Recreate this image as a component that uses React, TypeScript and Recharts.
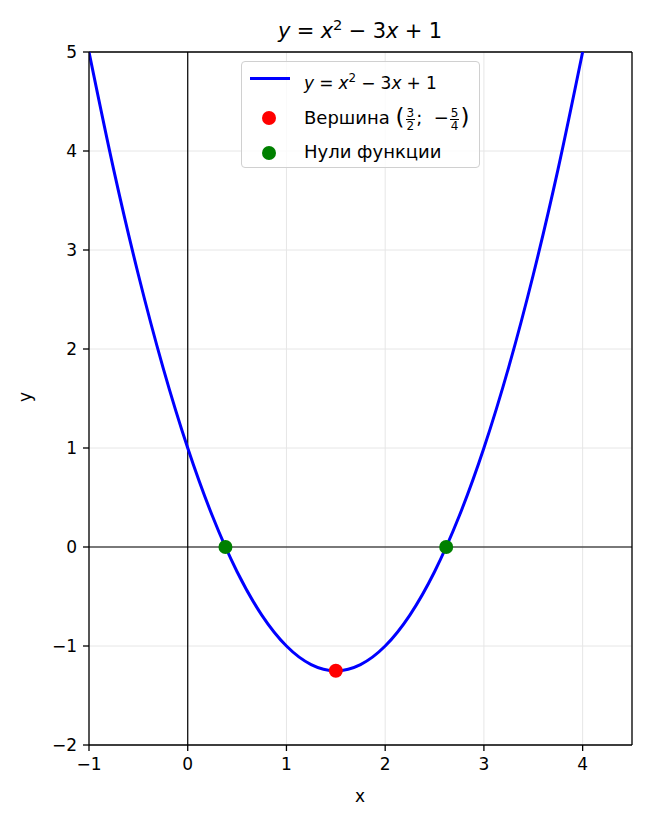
import React from "react";
import {
  ComposedChart,
  Line,
  Scatter,
  XAxis,
  YAxis,
  CartesianGrid,
  ReferenceLine,
} from "recharts";

// точки параболы y = x^2 - 3x + 1
const curveX = [-1, -0.75, -0.5, -0.25, 0, 0.25, 0.5, 0.75, 1, 1.25, 1.5, 1.75, 2, 2.25, 2.5, 2.75, 3, 3.25, 3.5, 3.75, 4];
const curveY = [5, 3.8125, 2.75, 1.8125, 1, 0.3125, -0.25, -0.6875, -1, -1.1875, -1.25, -1.1875, -1, -0.6875, -0.25, 0.3125, 1, 1.8125, 2.75, 3.8125, 5];

const vertex = [{ x: 1.5, y: -1.25 }];
const zeros = [
  { x: 0.382, y: 0 },
  { x: 2.618, y: 0 },
];

const xTicks = [-1, 0, 1, 2, 3, 4];
const yTicks = [-2, -1, 0, 1, 2, 3, 4, 5];

const curve = curveX.map((x, i) => ({ x, y: curveY[i] }));

const FONT = "'DejaVu Sans', sans-serif";
const fmt = (v: number) => String(v).replace("-", "\u2212");

const tickStyle = { fill: "#000", fontSize: 17, fontFamily: FONT };
const axisLine = { stroke: "#000", strokeWidth: 1.3 };

const dot = (color: string) => (p: any) => (
  <circle cx={p.cx} cy={p.cy} r={7} fill={color} />
);

const sp = <span style={{ display: "inline-block", width: "0.3em" }} />;

const MathTitle = () => (
  <span>
    <i>y</i>
    {sp}={sp}
    <i>x</i>
    <sup style={{ fontSize: "0.7em" }}>2</sup>
    {sp}−{sp}3<i>x</i>
    {sp}+{sp}1
  </span>
);

const Frac = ({ n, d }: { n: string; d: string }) => (
  <span
    style={{
      display: "inline-flex",
      flexDirection: "column",
      alignItems: "center",
      fontSize: 12,
      lineHeight: "12px",
      verticalAlign: "middle",
      margin: "0 1px",
    }}
  >
    <span style={{ borderBottom: "1px solid #000", padding: "0 1px" }}>{n}</span>
    <span>{d}</span>
  </span>
);

export default function App() {
  return (
    <div
      style={{
        position: "absolute",
        left: 0,
        top: 0,
        width: 648,
        height: 823,
        background: "#fff",
        fontFamily: FONT,
      }}
    >
      <ComposedChart width={648} height={823} margin={{ top: 52, right: 16, bottom: 0, left: 0 }}>
        <CartesianGrid stroke="#e6e6e6" strokeWidth={1} />
        <XAxis
          type="number"
          dataKey="x"
          domain={[-1, 4.5]}
          ticks={xTicks}
          allowDataOverflow
          height={78}
          tickSize={6}
          tickMargin={7}
          stroke="#000"
          axisLine={axisLine}
          tickLine={axisLine}
          tick={tickStyle}
          tickFormatter={fmt}
        />
        <YAxis
          type="number"
          dataKey="y"
          domain={[-2, 5]}
          ticks={yTicks}
          allowDataOverflow
          width={89}
          tickSize={6}
          tickMargin={6}
          stroke="#000"
          axisLine={axisLine}
          tickLine={axisLine}
          tick={tickStyle}
          tickFormatter={fmt}
        />
        <ReferenceLine x={0} stroke="#000" strokeWidth={1.2} />
        <ReferenceLine y={0} stroke="#000" strokeWidth={1.2} />
        <ReferenceLine x={4.5} stroke="#000" strokeWidth={1.3} />
        <ReferenceLine y={5} stroke="#000" strokeWidth={1.3} />
        <Line
          data={curve}
          dataKey="y"
          type="monotone"
          stroke="#0000ff"
          strokeWidth={3}
          dot={false}
          activeDot={false}
          isAnimationActive={false}
        />
        <Scatter data={vertex} dataKey="y" fill="#ff0000" shape={dot("#ff0000")} isAnimationActive={false} />
        <Scatter data={zeros} dataKey="y" fill="#008000" shape={dot("#008000")} isAnimationActive={false} />
      </ComposedChart>

      {/* заголовок */}
      <div
        style={{
          position: "absolute",
          left: 160,
          width: 400,
          top: 12,
          textAlign: "center",
          fontSize: 21,
          lineHeight: "26px",
        }}
      >
        <MathTitle />
      </div>

      {/* подписи осей */}
      <div style={{ position: "absolute", left: 340, width: 40, top: 786, textAlign: "center", fontSize: 17 }}>x</div>
      <div
        style={{
          position: "absolute",
          left: 5,
          top: 387,
          width: 40,
          textAlign: "center",
          fontSize: 17,
          transform: "rotate(-90deg)",
        }}
      >
        y
      </div>

      {/* легенда */}
      <div
        style={{
          position: "absolute",
          left: 241,
          top: 61,
          width: 237,
          height: 105,
          border: "1px solid #d0d0d0",
          borderRadius: 4,
          background: "rgba(255,255,255,0.8)",
          fontSize: 18,
        }}
      >
        <div style={{ position: "absolute", left: 8, top: 15, width: 40, height: 3, background: "#0000ff" }} />
        <div style={{ position: "absolute", left: 62, top: 4, lineHeight: "24px", whiteSpace: "nowrap", fontSize: 17 }}>
          <MathTitle />
        </div>
        <div style={{ position: "absolute", left: 20, top: 49, width: 14, height: 14, borderRadius: 7, background: "#ff0000" }} />
        <div style={{ position: "absolute", left: 62, top: 41, lineHeight: "30px", whiteSpace: "nowrap" }}>
          Вершина{" "}
          <span style={{ fontSize: 23, verticalAlign: "middle", position: "relative", top: -2 }}>(</span>
          <Frac n="3" d="2" />;&nbsp; −<Frac n="5" d="4" />
          <span style={{ fontSize: 23, verticalAlign: "middle", position: "relative", top: -2 }}>)</span>
        </div>
        <div style={{ position: "absolute", left: 20, top: 84, width: 14, height: 14, borderRadius: 7, background: "#008000" }} />
        <div style={{ position: "absolute", left: 62, top: 78, lineHeight: "24px", whiteSpace: "nowrap" }}>
          Нули функции
        </div>
      </div>
    </div>
  );
}
